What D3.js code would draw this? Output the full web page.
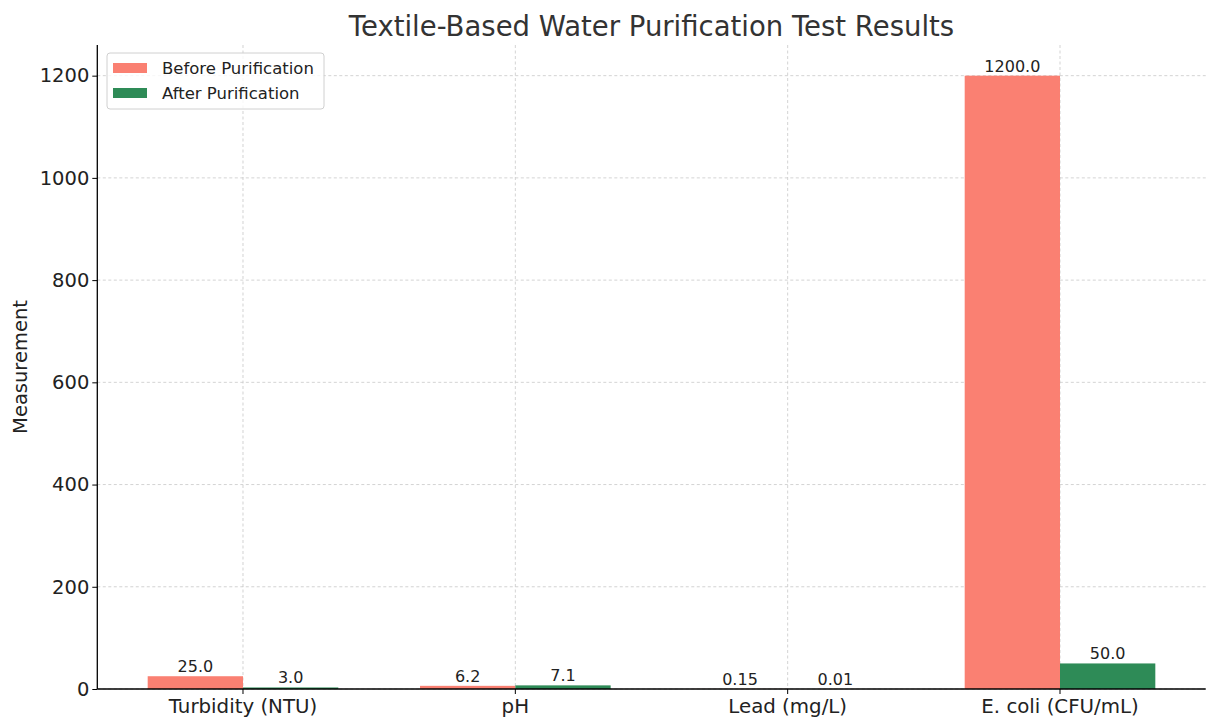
<!DOCTYPE html>
<html><head><meta charset="utf-8">
<script src="https://cdn.jsdelivr.net/npm/d3@7"></script>
<style>body{margin:0;background:#fff;} text{font-family:"DejaVu Sans",sans-serif;}</style>
</head><body>
<svg id="c" width="1206" height="720"></svg>
<script>
const categories = ["Turbidity (NTU)", "pH", "Lead (mg/L)", "E. coli (CFU/mL)"];
const beforeValues = [25.0, 6.2, 0.15, 1200.0];
const afterValues = [3.0, 7.1, 0.01, 50.0];
const seriesNames = ["Before Purification", "After Purification"];
const yTicks = [0, 200, 400, 600, 800, 1000, 1200];
const colors = ["#FA8072", "#2E8B57"];

const svg = d3.select("#c");
const L = 97.3, R = 1205.7, T = 45, B = 689;
const x = d3.scaleBand().domain(categories).range([L, R]).paddingInner(0.3).paddingOuter(0.185);
const xs = d3.scaleBand().domain(seriesNames).range([0, x.bandwidth()]);
const y = d3.scaleLinear().domain([0, 1260]).range([B, T]);

// grid
const g = svg.append("g");
g.selectAll(".hg").data(yTicks).join("line")
  .attr("x1", L).attr("x2", R).attr("y1", d => y(d)).attr("y2", d => y(d))
  .attr("stroke", "#c8c8c8").attr("stroke-width", 0.8).attr("stroke-dasharray", "3,2.5");
g.selectAll(".vg").data(categories).join("line")
  .attr("x1", d => x(d) + x.bandwidth() / 2).attr("x2", d => x(d) + x.bandwidth() / 2)
  .attr("y1", T).attr("y2", B)
  .attr("stroke", "#c8c8c8").attr("stroke-width", 0.8).attr("stroke-dasharray", "3,2.5");

const series = [beforeValues, afterValues];
const fmt = v => Number.isInteger(v) ? v.toFixed(1) : String(v);
series.forEach((vals, si) => {
  const data = categories.map((c, i) => ({c, v: vals[i]}));
  svg.append("g").selectAll("rect").data(data).join("rect")
    .attr("x", d => x(d.c) + xs(seriesNames[si]))
    .attr("width", xs.bandwidth())
    .attr("y", d => y(d.v)).attr("height", d => B - y(d.v))
    .attr("fill", colors[si]);
  svg.append("g").selectAll("text").data(data).join("text")
    .attr("x", d => x(d.c) + xs(seriesNames[si]) + xs.bandwidth() / 2)
    .attr("y", d => y(d.v) - 4)
    .attr("text-anchor", "middle").attr("font-size", 16).attr("fill", "#222")
    .text(d => fmt(d.v));
});

// axes
const ya = svg.append("g").attr("transform", `translate(${L},0)`)
  .call(d3.axisLeft(y).tickValues(yTicks).tickSize(5).tickPadding(3).tickFormat(d3.format("d")));
ya.select(".domain").attr("d", `M0,${T}V${B}`).attr("stroke", "#000").attr("stroke-width", 1.3);
ya.selectAll("text").attr("font-size", 19.5).attr("fill", "#222").style("font-family", "DejaVu Sans");

const xa = svg.append("g").attr("transform", `translate(0,${B})`)
  .call(d3.axisBottom(x).tickSize(5).tickPadding(5));
xa.select(".domain").attr("d", `M${L},0H${R}`).attr("stroke", "#000").attr("stroke-width", 1.3);
xa.selectAll("text").attr("font-size", 19.8).attr("fill", "#222").style("font-family", "DejaVu Sans");

// labels
svg.append("text").attr("x", (L + R) / 2).attr("y", 36).attr("text-anchor", "middle")
  .attr("font-size", 27.5).attr("fill", "#333").text("Textile-Based Water Purification Test Results");
svg.append("text").attr("transform", `translate(27,${(T + B) / 2}) rotate(-90)`)
  .attr("text-anchor", "middle").attr("font-size", 19.5).attr("fill", "#222").text("Measurement");

// legend
const lg = svg.append("g");
lg.append("rect").attr("x", 107).attr("y", 53).attr("width", 217).attr("height", 56).attr("rx", 3)
  .attr("fill", "#fff").attr("fill-opacity", 0.8).attr("stroke", "#d0d0d0");
seriesNames.forEach((n, i) => {
  lg.append("rect").attr("x", 113).attr("y", 63 + i * 25).attr("width", 34).attr("height", 10).attr("fill", colors[i]);
  lg.append("text").attr("x", 162).attr("y", 74 + i * 25).attr("font-size", 16.5).attr("fill", "#222").text(n);
});
</script>
</body></html>
